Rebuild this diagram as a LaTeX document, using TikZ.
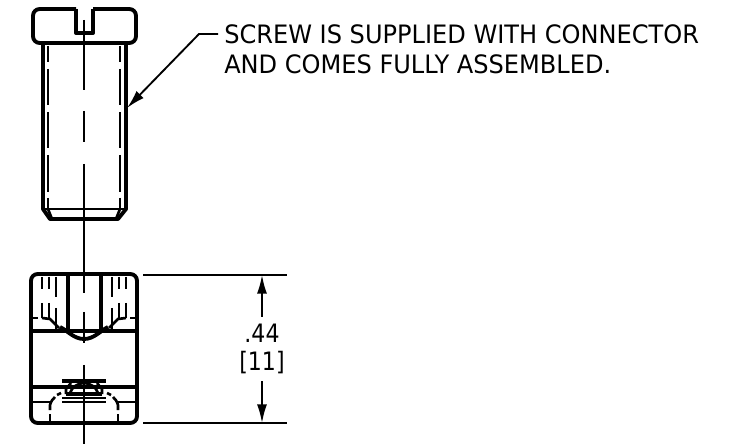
\documentclass[tikz,border=0pt]{standalone}
\usepackage{fontspec}
\setmainfont{DejaVu Sans}
\usetikzlibrary{arrows.meta}
\tikzset{
  partline/.style={line width=2.9pt, line join=round},
  midline/.style={line width=2pt},
  thinline/.style={line width=1.4pt},
  noteText/.style={anchor=west, inner sep=0pt, font=\fontsize{19}{19}\selectfont, xscale=0.95},
  dimText/.style={inner sep=0pt, font=\fontsize{19}{19}\selectfont, xscale=0.87},
  bigtip/.style={-{Latex[length=14pt,width=7.5pt]}}
}
\begin{document}
\begin{tikzpicture}[x=0.75pt,y=-0.75pt]
     \useasboundingbox (0,0) rectangle (732,445);
     % screw
     \draw [partline, rounded corners=5] (76,9) -- (33,9) -- (33,43) -- (136,43) -- (136,9) -- (93,9);
     \draw [partline] (76,9) -- (76,33) -- (93,33) -- (93,9);
     \draw [partline] (43,43) -- (43,209) -- (50,219) -- (118,219) -- (126,209) -- (126,43);
     \draw [midline] (43,209) -- (126,209);
     \draw [midline] (48,209) -- (52,219) (120,209) -- (116,219);
     \draw [thinline] (84,20) -- (84,90);
     \draw [thinline] (84,111) -- (84,142);
     \draw [thinline] (84,164) -- (84,293);
     \draw [thinline] (84,312) -- (84,343);
     \draw [thinline] (84,365) -- (84,444);
     \foreach \hx in {48,120} {
       \draw [midline] (\hx,46) -- (\hx,62) (\hx,69) -- (\hx,105) (\hx,112) -- (\hx,148) (\hx,155) -- (\hx,192) (\hx,198) -- (\hx,209);
     }
     % block
     \draw [partline, rounded corners=5] (31,274) rectangle (137,423);
     \draw [partline] (31,331) -- (137,331);
     \draw [partline] (31,387) -- (137,387);
     \draw [partline] (68,274) -- (68,331);
     \draw [partline] (101,274) -- (101,331);
     \draw [partline] (60,327) .. controls (68,331) and (74,339) .. (84,339) .. controls (94,339) and (100,331) .. (108,327);
     \draw [partline] (62,381) -- (106,381);
     \draw [midline] (70,393) .. controls (72,387) and (78,383) .. (84,383) .. controls (90,383) and (96,387) .. (98,393);
     \draw [partline] (66,394) -- (102,394);
     \draw [midline] (62,398) -- (106,398);
     \draw [midline] (62,402) -- (106,402);
     \foreach \s in {1,-1} {
       \begin{scope}[shift={(84,0)}, xscale=\s]
         \draw [midline] (-42,277) -- (-42,289) (-35,277) -- (-35,289) (-28,277) -- (-28,297);
         \draw [midline] (-42,303) -- (-42,318) (-35,303) -- (-35,318) (-28,308) -- (-28,329);
         \draw [midline] (-53,318) -- (-46,318);
         \draw [midline] (-42,318) -- (-34,319) -- (-25,328);
         \draw [midline] (-13,383) -- (-18,389) -- (-18,394);
         \draw [midline] (-53,402) -- (-34,402);
         \draw [midline] (-34,423) -- (-34,414);
         \draw [midline] (-34,410) -- (-34,405) .. controls (-33,401) and (-31,399) .. (-29,397);
         \draw [midline] (-27,395) -- (-23,393);
       \end{scope}
     }
     % dimension
     \node [dimText] (dimval) at (262,333) {.44};
     \node [dimText] (dimmm) at (262,363) {[11]};
     \coordinate (dimtop) at (262,275);
     \coordinate (dimbot) at (262,423);
     \coordinate (dimup) at (262,317);
     \coordinate (dimdown) at (262,381);
     \draw [thinline] (143,275) -- (287,275);
     \draw [thinline] (143,423) -- (287,423);
     \draw [thinline, bigtip] (dimup) -- (dimtop);
     \draw [thinline, bigtip] (dimdown) -- (dimbot);
     % note
     \node [noteText] (noteone) at (224,34) {SCREW IS SUPPLIED WITH CONNECTOR};
     \node [noteText] (notetwo) at (224,64) {AND COMES FULLY ASSEMBLED.};
     \coordinate (notebend) at (199,34);
     \coordinate (notefree) at (218,34);
     \coordinate (notetip) at (127,108);
     \draw [thinline, bigtip] (notefree) -- (notebend) -- (notetip);
 \end{tikzpicture}
\end{document}
